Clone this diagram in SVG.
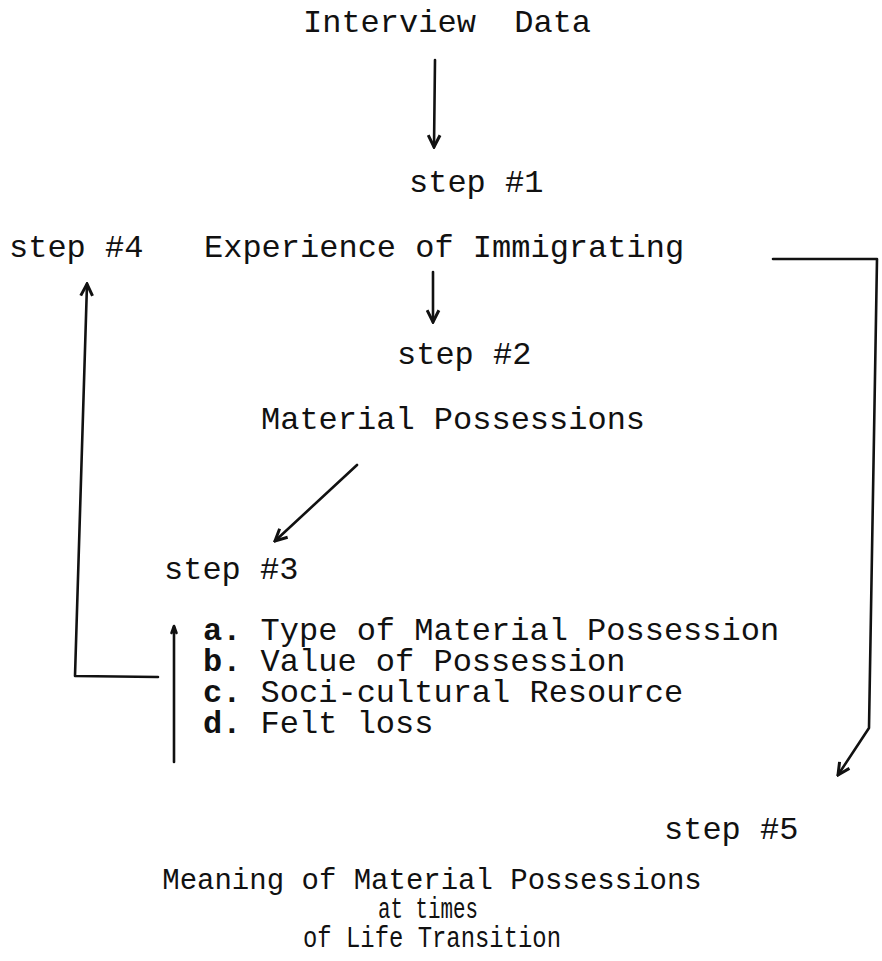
<svg xmlns="http://www.w3.org/2000/svg" width="882" height="961" viewBox="0 0 882 961">
<style>
text{font-family:"Liberation Mono","Courier New",monospace;font-size:32px;fill:#111}
.b{font-weight:bold}
.sm{font-size:29px}
.ln{fill:none;stroke:#111;stroke-width:2.6;stroke-linecap:round;stroke-linejoin:round}
</style>
<defs>
<marker id="ah" viewBox="0 0 14 14" refX="12.5" refY="7" markerWidth="15" markerHeight="15" markerUnits="userSpaceOnUse" orient="auto">
<path d="M1.5,1.5 L12.5,7 L1.5,12.5" fill="none" stroke="#111" stroke-width="2.8" stroke-linejoin="miter"/>
</marker>
</defs>
<rect width="882" height="961" fill="#fff"/>
<g id="interview"><text x="303" y="32" xml:space="preserve">Interview  Data</text></g>
<g id="step1"><text x="409" y="192">step #1</text></g>
<g id="step4"><text x="9" y="257">step #4</text></g>
<g id="experience"><text x="204" y="257">Experience of Immigrating</text></g>
<g id="step2"><text x="397" y="364">step #2</text></g>
<g id="material"><text x="261" y="429">Material Possessions</text></g>
<g id="step3"><text x="164" y="579">step #3</text></g>
<g id="list">
<text x="203" y="640"><tspan class="b">a.</tspan> Type of Material Possession</text>
<text x="203" y="671"><tspan class="b">b.</tspan> Value of Possession</text>
<text x="203" y="702"><tspan class="b">c.</tspan> Soci-cultural Resource</text>
<text x="203" y="733"><tspan class="b">d.</tspan> Felt loss</text>
</g>
<g id="step5"><text x="664" y="839">step #5</text></g>
<g id="meaning">
<text class="sm" x="432" y="889" text-anchor="middle">Meaning of Material Possessions</text>
<text class="sm" x="428" y="918" text-anchor="middle" textLength="100" lengthAdjust="spacingAndGlyphs">at times</text>
<text class="sm" x="432" y="947" text-anchor="middle" textLength="258" lengthAdjust="spacingAndGlyphs">of Life Transition</text>
</g>
<g id="connectors">
<path class="ln" d="M435,60 L434,147" marker-end="url(#ah)"/>
<path class="ln" d="M433,272 L433,322" marker-end="url(#ah)"/>
<path class="ln" d="M357,465 L275,541" marker-end="url(#ah)"/>
<path class="ln" d="M158,677 L75,676 L87,284" marker-end="url(#ah)"/>
<path class="ln" d="M773,259 L877,259 L869,728 L838,775" marker-end="url(#ah)"/>
<path class="ln" d="M174,762 L174,627"/>
<path class="ln" d="M171.5,633 L174,626 L176.5,633"/>
</g>
</svg>
